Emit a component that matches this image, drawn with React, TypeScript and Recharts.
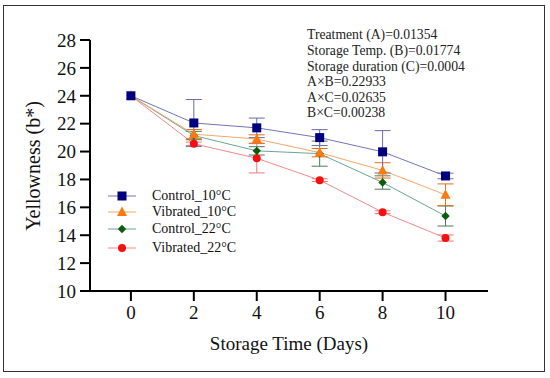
import React from "react";
import { LineChart, Line, XAxis, YAxis, ErrorBar } from "recharts";

const days = [0, 2, 4, 6, 8, 10];
const control10 = [24.0, 22.05, 21.7, 21.0, 19.98, 18.25];
const control10Err = [0, 1.68, 0.7, 0.57, 1.52, 0.2];
const vibrated10 = [24.0, 21.25, 20.9, 19.92, 18.65, 16.9];
const vibrated10Err = [0, 0.33, 0.3, 0.3, 0.55, 0.78];
const control22 = [24.0, 21.15, 20.05, 19.85, 17.78, 15.38];
const control22Err = [0, 0.3, 0.3, 0.9, 0.48, 0.72];
const vibrated22 = [24.0, 20.56, 19.52, 17.95, 15.65, 13.8];
const vibrated22Err = [0, 0.12, 1.05, 0.1, 0.1, 0.22];

const yTicks = [10, 12, 14, 16, 18, 20, 22, 24, 26, 28];
const xTicks = [0, 2, 4, 6, 8, 10];

const stats = [
  "Treatment (A)=0.01354",
  "Storage Temp. (B)=0.01774",
  "Storage duration (C)=0.0004",
  "A×B=0.22933",
  "A×C=0.02635",
  "B×C=0.00238",
];

const data = days.map((d, i) => ({
  day: d,
  c10: control10[i],
  c10Err: control10Err[i],
  v10: vibrated10[i],
  v10Err: vibrated10Err[i],
  c22: control22[i],
  c22Err: control22Err[i],
  v22: vibrated22[i],
  v22Err: vibrated22Err[i],
}));

const FONT = "'Liberation Serif', 'Times New Roman', serif";

type Shape = "square" | "triangle" | "diamond" | "circle";

function marker(shape: Shape, color: string, cx: number, cy: number, key?: any) {
  if (shape === "square")
    return <rect key={key} x={cx - 4.5} y={cy - 4.5} width={9} height={9} fill={color} />;
  if (shape === "triangle")
    return (
      <polygon
        key={key}
        points={`${cx},${cy - 5.5} ${cx + 5},${cy + 4} ${cx - 5},${cy + 4}`}
        fill={color}
      />
    );
  if (shape === "diamond")
    return (
      <polygon
        key={key}
        points={`${cx},${cy - 4.2} ${cx + 4.2},${cy} ${cx},${cy + 4.2} ${cx - 4.2},${cy}`}
        fill={color}
      />
    );
  return <circle key={key} cx={cx} cy={cy} r={4} fill={color} />;
}

const makeDot = (shape: Shape, color: string) => (props: any) => {
  const { cx, cy, index } = props;
  if (cx == null || cy == null) return <g key={index} />;
  return marker(shape, color, cx, cy, index);
};

const series = [
  { name: "Control_10°C", key: "c10", shape: "square" as Shape, line: "#7474b8", mark: "#00007f", err: "#6a6aaa" },
  { name: "Vibrated_10°C", key: "v10", shape: "triangle" as Shape, line: "#f5a86c", mark: "#fb7a10", err: "#e0701a" },
  { name: "Control_22°C", key: "c22", shape: "diamond" as Shape, line: "#6aa596", mark: "#0a5e0a", err: "#4f7a5a" },
  { name: "Vibrated_22°C", key: "v22", shape: "circle" as Shape, line: "#f08a8a", mark: "#f51010", err: "#ec7a7a" },
];

const legendRows = [196, 212, 229, 248];
const statRows = [35, 51, 67, 82, 98, 113];

export default function App() {
  const drawOrder = [...series].reverse();
  return (
    <div style={{ position: "absolute", left: 0, top: 0, width: 550, height: 378, background: "#fff", fontFamily: FONT }}>
      <div
        style={{
          position: "absolute",
          left: 3,
          top: 5,
          width: 542,
          height: 367,
          border: "1.5px solid #333",
          boxSizing: "border-box",
        }}
      />
      <LineChart
        width={550}
        height={378}
        data={data}
        margin={{ top: 40, right: 62, bottom: 0, left: 0 }}
        style={{ position: "absolute", left: 0, top: 0 }}
      >
        <XAxis
          dataKey="day"
          type="number"
          domain={[-1.3, 11.35]}
          ticks={xTicks}
          allowDataOverflow
          height={87}
          tickSize={10}
          tickMargin={5}
          axisLine={{ stroke: "#000", strokeWidth: 2 }}
          tickLine={{ stroke: "#000", strokeWidth: 2 }}
          tick={{ fill: "#111", fontSize: 19, fontFamily: FONT }}
        />
        <YAxis
          type="number"
          domain={[10, 28]}
          ticks={yTicks}
          width={90}
          tickSize={10}
          tickMargin={4}
          axisLine={{ stroke: "#000", strokeWidth: 2 }}
          tickLine={{ stroke: "#000", strokeWidth: 2 }}
          tick={{ fill: "#111", fontSize: 19, fontFamily: FONT }}
        />
        {drawOrder.map((s) => (
          <Line
            key={s.key}
            dataKey={s.key}
            name={s.name}
            type="linear"
            stroke={s.line}
            strokeWidth={1}
            dot={makeDot(s.shape, s.mark)}
            activeDot={false}
            isAnimationActive={false}
          >
            <ErrorBar
              dataKey={`${s.key}Err`}
              direction="y"
              width={8}
              stroke={s.err}
              strokeWidth={1}
              isAnimationActive={false}
            />
          </Line>
        ))}
      </LineChart>

      {/* legend */}
      {series.map((s, i) => (
        <div key={s.key} style={{ position: "absolute", left: 106, top: legendRows[i] - 10, height: 20, display: "flex", alignItems: "center" }}>
          <svg width={32} height={20} style={{ display: "block" }}>
            <line x1={2} y1={10} x2={30} y2={10} stroke={s.line} strokeWidth={1} />
            {marker(s.shape, s.mark, 16, 10)}
          </svg>
          <span style={{ marginLeft: 14, fontSize: 14, color: "#111", whiteSpace: "nowrap", lineHeight: "20px" }}>{s.name}</span>
        </div>
      ))}

      {/* statistics */}
      {stats.map((t, i) => (
        <div key={t} style={{ position: "absolute", left: 307, top: statRows[i] - 8, fontSize: 13.7, lineHeight: "16px", color: "#222", whiteSpace: "nowrap" }}>
          {t}
        </div>
      ))}

      {/* axis titles */}
      <div
        style={{
          position: "absolute",
          left: 33,
          top: 166,
          transform: "translate(-50%, -50%) rotate(-90deg)",
          fontSize: 20,
          color: "#111",
          whiteSpace: "nowrap",
        }}
      >
        Yellowness (b*)
      </div>
      <div
        style={{
          position: "absolute",
          left: 289,
          top: 344,
          transform: "translate(-50%, -50%)",
          fontSize: 19,
          color: "#111",
          whiteSpace: "nowrap",
        }}
      >
        Storage Time (Days)
      </div>
    </div>
  );
}
